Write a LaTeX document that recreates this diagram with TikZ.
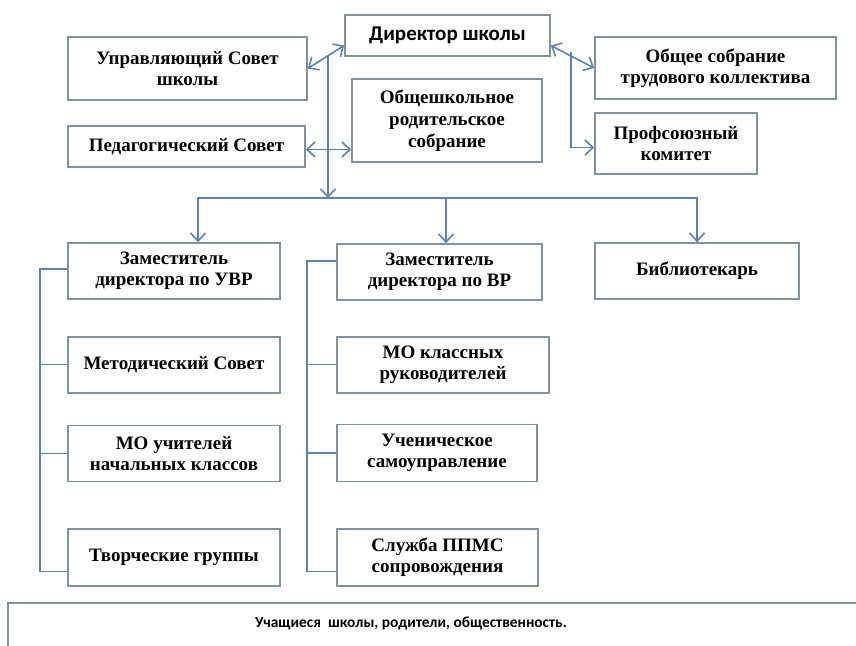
\documentclass[tikz,border=0pt]{standalone}
\usepackage{fontspec}
\setmainfont{Liberation Serif}
\newfontfamily\calibri{Carlito}
\usepackage{tikz}
\usetikzlibrary{positioning, arrows.meta}
\definecolor{boxgray}{RGB}{128,145,160}
\definecolor{linkblue}{RGB}{95,130,170}
\tikzset{
    block/.style={
        draw=boxgray, fill=white, line width=0.85pt,
        minimum width = 106pt,
        minimum height = 28pt,
        inner sep = 2pt,
        align = center,
        font = \fontsize{9.5}{10.5}\selectfont\bfseries
    },
    line/.style = {draw=linkblue, line width=0.8pt, -{Straight Barb[length=4pt,width=7.5pt]}},
    dline/.style = {line, {Straight Barb[length=4pt,width=7.5pt]}-{Straight Barb[length=4pt,width=7.5pt]}},
    tie/.style = {draw=linkblue, line width=0.8pt},
    frame/.style = {draw=boxgray, line width=1pt}
}
\begin{document}
\begin{tikzpicture}[x=0.5pt, y=-0.5pt]
    \useasboundingbox (0,0) rectangle (856,646);

    % Top blocks
    \node[block, minimum width=102.5pt, minimum height=20.5pt,
          font=\calibri\fontsize{10.5}{12}\selectfont\bfseries] (director) at (447.5,35.5) {Директор школы};
    \node[block, minimum width=119.5pt, minimum height=31.5pt] (upr) at (187.5,68.5) {Управляющий Совет\\школы};
    \node[block, minimum width=118.5pt, minimum height=20.5pt] (ped) at (186.5,146.5) {Педагогический Совет};
    \node[block, minimum width=95pt, minimum height=41.5pt,
          font=\fontsize{9.5}{11}\selectfont\bfseries] (roditel) at (447,120.5) {Общешкольное\\родительское\\собрание};
    \node[block, minimum width=120.5pt, minimum height=31pt] (obsh) at (715.5,68) {Общее собрание\\трудового коллектива};
    \node[block, minimum width=81pt, minimum height=30.5pt] (prof) at (676,143.5) {Профсоюзный\\комитет};

    % Deputies
    \node[block] (uvr) at (174,271) {Заместитель\\директора по УВР};
    \node[block, minimum width=102.5pt] (vr) at (439.5,272) {Заместитель\\директора по ВР};
    \node[block, minimum width=102pt] (bib) at (697,271) {Библиотекарь};

    % Left column
    \node[block, below = 18pt of uvr] (metod) {Методический Совет};
    \node[block, below = 15.5pt of metod] (mouch) {МО учителей\\начальных классов};
    \node[block, below = 23pt of mouch, minimum height=28.5pt] (tvor) {Творческие группы};

    % Middle column
    \node[block, below = 17.5pt of vr.south west, anchor=north west] (moklass) {МО классных\\руководителей};
    \node[block, below = 15pt of moklass.south west, anchor=north west,
          minimum width=100pt, minimum height=28.5pt] (uchen) {Ученическое\\самоуправление};
    \node[block, below = 23pt of uchen.south west, anchor=north west,
          minimum width=100.5pt, minimum height=28.5pt] (sluzh) {Служба ППМС\\сопровождения};

    % Bottom
    \node[font=\calibri\fontsize{7.7}{10}\selectfont\bfseries] (pupils) at (411,623) {Учащиеся~ школы, родители, общественность.};
    \coordinate (fl) at (8,646);
    \coordinate (fr) at (856,603);
    \draw[frame] (fl) |- (fr);

    % Lines
    \coordinate (trunk) at (328,56);
    \coordinate (bus) at (328,198);
    \coordinate (rtop) at (571,52);
    \coordinate (lspine) at (40,0);
    \coordinate (mspine) at (307,0);

    \draw[line] (trunk) -- (bus);
    \draw[dline] (upr.east) -- ([yshift=-5pt]director.west);
    \draw[dline] ([yshift=-1.5pt]ped.east) -- ([yshift=-1.5pt]ped.east -| roditel.west);
    \draw[dline] ([yshift=-5pt]director.east) -- (obsh.west);
    \draw[line] (rtop) |- ([yshift=-2pt]prof.west);

    \draw[tie] (bus) -| (bib.north);
    \draw[line] (bus) -| ([xshift=12pt]uvr.north);
    \draw[line] ([xshift=3.25pt]vr.north |- bus) -- ([xshift=3.25pt]vr.north);
    \draw[line] ([yshift=-1pt]bib.north |- bus) -- (bib.north);

    \draw[tie] ([yshift=1pt]uvr.west) -| ([yshift=-7pt]lspine |- tvor.west) -- ([yshift=-7pt]tvor.west);
    \foreach \n in {metod, mouch}
        \draw[tie] (\n.west) -- (\n.west -| lspine);

    \draw[tie] ([yshift=5.5pt]vr.west) -| ([yshift=-7pt]mspine |- sluzh.west) -- ([yshift=-7pt]sluzh.west);
    \foreach \n in {moklass, uchen}
        \draw[tie] (\n.west) -- (\n.west -| mspine);

\end{tikzpicture}
\end{document}
